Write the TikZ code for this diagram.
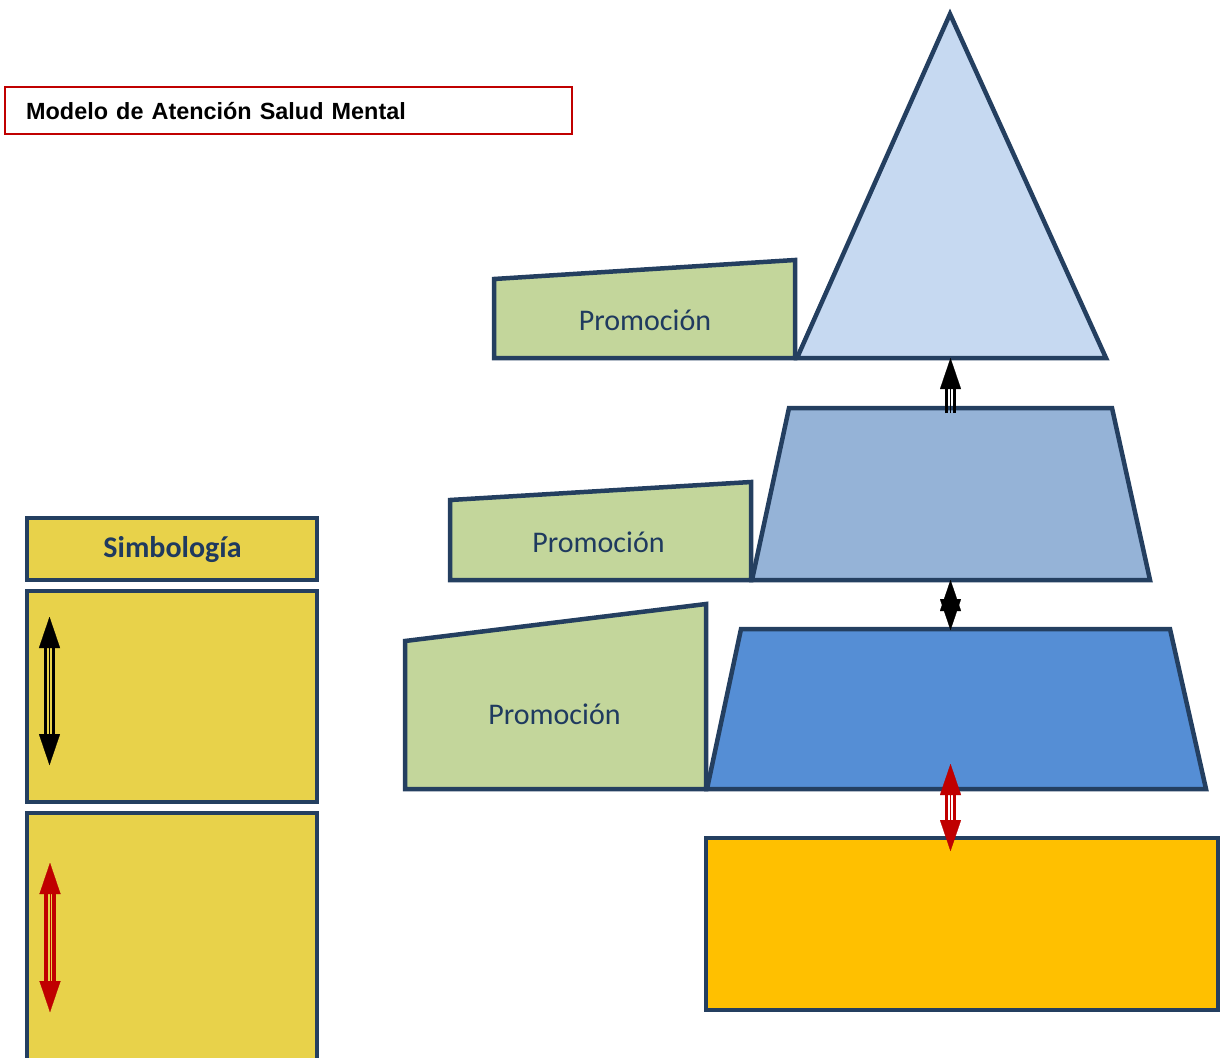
\documentclass[tikz,border=0pt]{standalone}
\usepackage{fontspec}
\setmainfont{Carlito}
\newfontfamily\arialfont[WordSpace=1.25]{Liberation Sans}
\usetikzlibrary{arrows.meta,calc}
\definecolor{edge}{HTML}{243F60}
\definecolor{apexfill}{HTML}{C6D9F1}
\definecolor{midfill}{HTML}{95B3D7}
\definecolor{lowfill}{HTML}{558ED5}
\definecolor{basefill}{HTML}{FFC000}
\definecolor{promofill}{HTML}{C3D69B}
\definecolor{legendfill}{HTML}{E8D24A}
\definecolor{redline}{HTML}{C00000}
\definecolor{promotext}{HTML}{1F3A5F}
\tikzset{
  x=1pt,y=-1pt,
  shapebox/.style={draw=edge,line width=4.5pt,line join=miter,miter limit=10,outer sep=0pt},
  promolabel/.style={text=promotext,font=\fontsize{30}{33}\selectfont,inner sep=0pt,anchor=center},
  stem/.style={line width=3.6pt},
  tiphead/.style={line width=0.1pt,
    arrows={-{Triangle[length=31pt,width=21pt,inset=0pt]}}},
  tipheads/.style={line width=0.1pt,
    arrows={{Triangle[length=31pt,width=21pt,inset=0pt]}-{Triangle[length=31pt,width=21pt,inset=0pt]}}},
  shade/.style={shift={(0.7pt,-1.4pt)},opacity=.22}
}
% color, from coordinate, to coordinate, tip style, stem inset start, stem inset end
\newcommand{\twinarrow}[6]{%
  \draw[stem,#1!60!black,shade] ($(#2)+(-4,#5)$) -- ($(#3)+(-4,#6)$);
  \draw[stem,#1!60!black,shade] ($(#2)+(4,#5)$) -- ($(#3)+(4,#6)$);
  \draw[#4,#1!60!black,shade,fill=#1!60!black] (#2) -- (#3);
  \draw[stem,#1] ($(#2)+(-4,#5)$) -- ($(#3)+(-4,#6)$);
  \draw[stem,#1] ($(#2)+(4,#5)$) -- ($(#3)+(4,#6)$);
  \draw[#4,#1,fill=#1] (#2) -- (#3);
}
\begin{document}
\begin{tikzpicture}
\useasboundingbox (0,0) rectangle (1222,1057);
\begin{scope}
\clip (0,0) rectangle (1222,1057);
% title
\node[draw=redline,line width=1.6pt,fill=white,outer sep=0pt,minimum width=567pt,minimum height=47pt,inner sep=0pt,anchor=north west] (title) at (5,87) {};
\node[anchor=west,inner sep=0pt,font=\arialfont\bfseries\fontsize{23.4}{28}\selectfont] (titletext) at (26,111) {Modelo de Atención Salud Mental};
% legend
\node[shapebox,fill=legendfill,minimum width=290pt,minimum height=62pt,inner sep=0pt,anchor=north west] (legendhead) at (27,518) {};
\node[text=promotext,font=\bfseries\fontsize{30}{33}\selectfont,inner sep=0pt] (legendtext) at (172.500,550) {Simbología};
\node[shapebox,fill=legendfill,minimum width=290pt,minimum height=211pt,inner sep=0pt,anchor=north west] (legendblack) at (27,591) {};
\node[shapebox,fill=legendfill,minimum width=290pt,minimum height=270pt,inner sep=0pt,anchor=north west] (legendred) at (27,813) {};
% promotion blocks
\draw[shapebox,fill=promofill] (494,279) -- (795,260) -- (795,358) -- (494,358) -- cycle;
\draw[shapebox,fill=promofill] (450,500) -- (751,482) -- (751,580) -- (450,580) -- cycle;
\draw[shapebox,fill=promofill] (405,641) -- (706,604) -- (706,789) -- (405,789) -- cycle;
\node[promolabel] (promoA) at (645,320) {Promoción};
\node[promolabel] (promoB) at (598.500,542) {Promoción};
\node[promolabel] (promoC) at (554.500,714) {Promoción};
% pyramid
\draw[shapebox,fill=apexfill] (950,14) -- (1106,358) -- (797,358) -- cycle;
\draw[shapebox,fill=midfill] (789,408) -- (1112,408) -- (1150,580) -- (752,580) -- cycle;
\draw[shapebox,fill=lowfill] (741,629) -- (1170,629) -- (1206,789) -- (707,789) -- cycle;
\node[shapebox,fill=basefill,minimum width=512pt,minimum height=172pt,inner sep=0pt,anchor=north west] (basebox) at (706,838) {};
% connector end points
\coordinate (upA) at (950.500,358);
\coordinate (upB) at (950.500,413);
\coordinate (midA) at (950.500,580);
\coordinate (midB) at (950.500,630);
\coordinate (redA) at (950.500,764);
\coordinate (redB) at (950.500,851);
\coordinate (legA) at (49.500,617);
\coordinate (legB) at (49.500,765);
\coordinate (legC) at (50,863);
\coordinate (legD) at (50,1012);
% arrows
\draw[stem,black!60!black,shade] ($(upB)+(-4,0)$) -- ($(upA)+(-4,30)$);
\draw[stem,black!60!black,shade] ($(upB)+(4,0)$) -- ($(upA)+(4,30)$);
\draw[stem,black] ($(upB)+(-4,0)$) -- ($(upA)+(-4,30)$);
\draw[stem,black] ($(upB)+(4,0)$) -- ($(upA)+(4,30)$);
\draw[tiphead,black,fill=black] (upB) -- (upA);
\draw[tipheads,black,shade,fill=black] (midA) -- (midB);
\draw[tipheads,black,fill=black] (midA) -- (midB);
\twinarrow{redline}{redA}{redB}{tipheads}{30}{-30}
\twinarrow{black}{legA}{legB}{tipheads}{30}{-30}
\twinarrow{redline}{legC}{legD}{tipheads}{30}{-30}
\end{scope}
\end{tikzpicture}
\end{document}
